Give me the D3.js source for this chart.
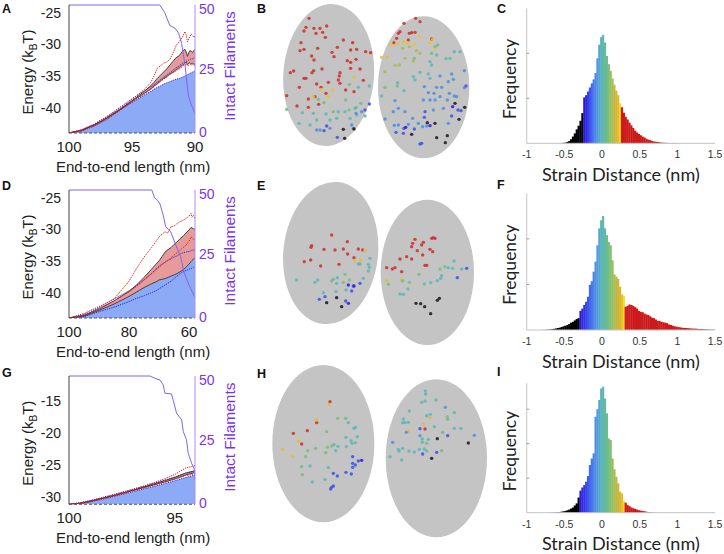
<!DOCTYPE html>
<html><head><meta charset="utf-8">
<script src="https://cdn.jsdelivr.net/npm/d3@7"></script>
<style>body{margin:0;background:#fff}svg{display:block}</style>
</head><body><svg id="c" width="724" height="554"></svg>
<script>
// ---------------- Energy panels (A, D, G) ----------------
const aX      = [100,99,98,97,96,95,94,93.5,93.25,93,92.75,92.5,92.25,92,91.75,91.5,91.25,91,90.8,90.7,90.6,90.5,90.4,90.3,90.2,90.1,90];
const aFill   = [-44,-43.7,-42.9,-41.9,-40.4,-39.2,-38.0,-37.4,-37.1,-36.8,-36.6,-36.3,-36.1,-35.9,-35.7,-35.5,-35.4,-35.2,-35.0,-34.9,-34.8,-34.7,-34.6,-34.5,-34.4,-34.3,-34.2];
const aBlueUp = [-44,-43.5,-42.6,-41.4,-40.0,-38.6,-37.3,-36.7,-36.4,-36.0,-35.6,-35.2,-34.9,-34.5,-34.1,-33.7,-33.4,-33.0,-32.8,-32.7,-32.6,-32.5,-32.4,-32.3,-32.3,-32.2,-32.1];
const aBandLo = [-44,-43.6,-42.8,-41.7,-40.4,-39.0,-37.7,-37.0,-36.6,-36.2,-35.8,-35.4,-35.1,-34.7,-34.4,-34.0,-33.7,-33.3,-33.0,-32.8,-33.2,-33.0,-32.9,-33.1,-33.0,-33.1,-33.2];
const aBandHi = [-44,-43.55,-42.7,-41.6,-40.3,-38.9,-37.4,-36.5,-36.0,-35.4,-34.9,-34.4,-33.9,-33.3,-32.7,-32.1,-31.8,-31.1,-30.8,-31.2,-31.9,-31.3,-31.0,-31.1,-31.3,-31.0,-30.8];
const aRedHi  = [-44,-43.5,-42.6,-41.5,-40.2,-38.7,-37.1,-36.0,-35.0,-33.8,-33.4,-33.0,-32.8,-32.4,-31.4,-30.2,-29.6,-28.9,-28.0,-28.5,-29.6,-29.2,-28.7,-28.4,-28.6,-28.9,-28.7];
const aRedLo  = [-44,-43.65,-42.85,-41.8,-40.5,-39.1,-37.8,-37.1,-36.7,-36.3,-35.9,-35.5,-35.2,-34.8,-34.5,-34.2,-33.9,-33.5,-33.2,-33.1,-33.4,-33.3,-33.1,-33.3,-33.2,-33.3,-33.4];
const aFilX   = [100,92.8,92.4,92.0,91.6,91.3,91.06,90.9,90.79,90.65,90.53,90.3,90.0];
const aFilN   = [50,50,47,42,41,39,35,30,26.6,20,14.8,11,7.7];

const dX      = [100,95,90,85,80,77.5,75,72.5,71,70,69,68,67,66,65,64,63,62,61,60,59.3,59,58.5,58];
const dRedHi  = [-44,-43.5,-42.4,-41.0,-38.2,-36.2,-34.4,-32.9,-31.9,-31.2,-30.8,-30.4,-30.6,-29.6,-29.5,-29.1,-28.8,-28.6,-28.3,-27.9,-27.5,-28.1,-27.8,-28.3];
const dBandHi = [-44,-43.55,-42.6,-41.3,-39.8,-38.8,-37.6,-36.3,-35.5,-35.0,-34.3,-33.6,-33.2,-32.9,-32.4,-32.0,-31.5,-31.1,-30.6,-30.1,-29.7,-29.8,-29.9,-30.0];
const dBandLo = [-44,-43.7,-42.8,-41.8,-40.6,-39.9,-39.2,-38.6,-38.3,-38.0,-37.9,-37.8,-37.6,-37.4,-37.2,-37.0,-36.7,-36.4,-36.0,-35.5,-35.1,-34.9,-34.7,-34.5];
const dBlueUp = [-44,-43.3,-42.2,-41.0,-39.7,-38.9,-38.0,-37.0,-36.3,-35.8,-35.5,-35.2,-34.9,-34.7,-34.4,-34.2,-33.9,-33.7,-33.6,-33.5,-33.4,-33.3,-33.3,-33.3];
const dBlueLo = [-44,-43.8,-43.0,-42.3,-41.4,-40.9,-40.5,-40.0,-39.7,-39.4,-39.1,-38.8,-38.5,-38.2,-37.8,-37.4,-37.0,-36.7,-36.5,-36.3,-36.2,-36.1,-36.0,-35.9];
const dRedLo  = [-44,-43.5,-42.5,-41.3,-39.9,-39.0,-38.0,-37.0,-36.4,-36.0,-35.6,-35.2,-34.9,-34.5,-34.1,-33.7,-33.3,-32.9,-32.5,-31.9,-31.2,-31.3,-31.6,-31.5];
const dFilX   = [100,72.4,71.5,70.5,69.7,68.6,67.8,66.1,64.4,62.8,61.7,60,58];
const dFilN   = [50,50,47,46,44.6,40.2,35.7,33.7,28.5,24,18,12.9,8];

const gX      = [100,99.5,99,98.5,98,97.5,97,96.5,96,95.5,95,94.5,94.05];
const gFill   = [-31.2,-31.1,-30.8,-30.45,-30.05,-29.65,-29.25,-28.8,-28.4,-27.95,-27.5,-27.0,-26.6];
const gBandLo = [-31.2,-31.05,-30.75,-30.35,-29.95,-29.5,-29.05,-28.6,-28.15,-27.7,-27.2,-26.6,-26.2];
const gBandHi = [-31.2,-31.05,-30.7,-30.3,-29.9,-29.45,-29.0,-28.5,-28.0,-27.5,-26.95,-26.3,-25.9];
const gRedHi  = [-31.2,-31.0,-30.65,-30.25,-29.8,-29.35,-28.85,-28.35,-27.8,-27.2,-26.5,-25.5,-25.1];
const gRedLo  = [-31.2,-31.08,-30.78,-30.4,-30.0,-29.55,-29.1,-28.65,-28.2,-27.75,-27.25,-26.7,-26.4];
const gBlueUp = [-31.2,-30.95,-30.6,-30.2,-29.75,-29.3,-28.85,-28.4,-27.9,-27.4,-26.9,-26.3,-26.0];
const gFilX   = [100,96.18,95.94,95.7,95.55,95.47,95.16,95.08,94.92,94.68,94.6,94.45,94.37,94.21,94.1,94.05];
const gFilN   = [50,50,49.1,48.4,46.5,43.3,43,40.6,35.5,32.9,28.3,25.1,19.9,16,14,9.5];

const aXTicks=[100,95,90], dXTicks=[100,80,60], gXTicks=[100,95];
const aYTicks=[-25,-30,-35,-40], gYTicks=[-15,-20,-25,-30];
const filTicks=[0,25,50];

// ---------------- Histograms (C, F, I) ----------------
const binW = 0.025;
const cStart = -0.6;
const cHeights = [0,0,0.005,0.01,0.015,0.03,0.05,0.09,0.15,0.22,0.31,0.39,0.50,0.67,1.02,1.07,1.15,1.24,1.33,1.42,1.56,1.89,2.19,2.36,2.41,2.24,1.94,1.76,1.61,1.44,1.30,1.17,1.07,0.89,0.80,0.68,0.59,0.53,0.46,0.40,0.34,0.28,0.24,0.21,0.18,0.15,0.13,0.10,0.08,0.07,0.05,0.04,0.035,0.03,0.022,0.015,0.012,0.01,0.008,0.006,0.005,0.004,0.005,0.003,0.002];
const fStart = -0.8;
const fHeights = [0.002,0.003,0.004,0.007,0.011,0.018,0.026,0.033,0.044,0.051,0.066,0.08,0.095,0.11,0.13,0.16,0.18,0.21,0.24,0.26,0.42,0.47,0.55,0.62,0.73,0.99,1.07,1.28,1.50,1.86,2.23,2.41,2.50,2.23,2.08,1.93,1.86,1.53,1.22,1.17,1.12,0.95,0.78,0.75,0.51,0.53,0.56,0.55,0.53,0.50,0.47,0.42,0.40,0.39,0.36,0.34,0.33,0.30,0.27,0.26,0.23,0.20,0.20,0.18,0.17,0.16,0.15,0.12,0.11,0.095,0.08,0.073,0.066,0.058,0.05,0.047,0.044,0.04,0.036,0.033,0.03,0.03,0.026,0.022,0.022,0.018,0.015,0.015,0.011,0.007,0.007,0.004];
const iStart = -0.7;
const iHeights = [0.003,0.005,0.01,0.01,0.015,0.02,0.03,0.04,0.05,0.07,0.09,0.12,0.15,0.21,0.27,0.44,0.64,0.73,0.80,0.90,1.06,1.38,1.57,1.72,2.78,3.00,3.27,3.60,3.65,3.31,2.88,2.15,2.11,1.57,1.26,1.04,0.85,0.61,0.56,0.34,0.29,0.22,0.19,0.15,0.13,0.11,0.09,0.07,0.06,0.05,0.04,0.03,0.02,0.015,0.01,0.005];
const strainTicks = [-1,-0.5,0,0.5,1,1.5];
const strainTickLabels = ["-1","-0.5","0","0.5","1","1.5"];

// ---------------- Nuclei scatter (B, E, H) ----------------
const grp = (s, pts) => pts.map(p => [p[0], p[1], s]);
const ellB = [[236,225,136,213,4],[521,262,137,213,0]];
const ellE = [[242,204,142,214,6],[532,262,140,218,0]];
const ellH = [[220,221,153,236,0],[559,265,152,237,0]];

const dotsB = [
 ...grp(0.35,[[177,55],[168,82],[162,93],[192,85],[210,85],[218,97],[198,100],[230,78],[226,112],[153,128],[150,152],[162,148],[203,145],[185,168],[192,180],[246,157],[262,142],[252,170],[280,120],[308,128],[302,150],[320,148],[347,155],[362,158],[318,178],[292,182],[302,187],[302,205],[330,207],[270,218],[268,228],[265,240],[270,250],[191,212],[186,218],[216,207],[131,213],[121,218],[162,235],[168,235],[148,262],[200,252],[213,262],[235,247],[228,280],[287,270],[312,275],[340,241],[195,290],[175,297],[206,313],[175,322],[141,318],[110,287],
   [462,70],[497,55],[510,65],[450,95],[445,100],[440,115],[432,128],[478,100],[485,98],[495,97],[475,120],[545,117]]),
 ...grp(0.22,[[213,268],[248,270],[312,232],[190,290],[235,290],
   [423,135],[440,130],[460,125],[472,128],[492,133],[508,110],[540,128],[555,145],[395,172],[412,172],[548,118]]),
 ...grp(0.14,[[458,145],[478,140],[500,152],[510,160],[465,175],[490,183],[448,195],[405,215],[435,196]]),
 ...grp(0.07,[[298,253],[110,328],[205,298],[222,308],[250,335],[287,300],[333,310],[297,330],[318,322],
   [555,140],[563,135],[545,160],[493,175],[405,262],[442,258]]),
 ...grp(0.0,[[358,258],[325,262],[157,338],[190,340],[228,342],[265,335],[285,335],[300,355],[147,370],[180,375],[200,360],[240,360],[260,355],[315,325],[320,345],[345,348],
   [560,165],[540,185],[545,195],[588,176],[600,175],[613,155],[630,155],[443,248],[490,230],[495,240],[510,217],[535,222],[540,235],[395,288],[462,272]]),
 ...grp(-0.07,[[200,390],[210,390],[240,385],[310,385],[305,375],[318,340],[335,335],
   [435,302],[445,325],[430,335],[465,335],[405,357],[433,376],[445,375],[475,373],[488,355],[505,370],[518,380],[530,378],[520,300],[540,300],[555,300],[570,290],[575,262],[560,262],[535,278],[552,280],[523,260],[595,245],[605,222],[610,238],[570,228],[643,212],[598,280],[620,290],[643,263],[592,300],[613,288],[550,330],[580,325],[595,370]]),
 ...grp(-0.16,[[222,392],[230,378],[262,412],[358,312],[345,330],
   [525,335],[523,352],[438,397],[460,400],[462,385],[493,387],[605,348],[624,330],[633,332],[648,258],[510,432],[515,430]]),
 ...grp(-0.23,[[467,382],[608,320],[540,377]]),
 ...grp(-0.35,[[280,388],[284,415],[312,387],[485,403],[532,368],[555,370],[615,310],[644,322],[627,358],[560,413],[592,407],[586,428]])
];
const dotsE = [
 ...grp(0.4,[[245,150],[292,170],[185,182],[183,187],[222,193],[255,195],[280,192],[293,207],[325,192],[338,195],[312,218],[163,230],[182,225],[212,243],[267,238],
   [495,163],[488,175],[520,172],[515,180],[485,185],[545,160],[550,158],[555,160],[540,193],[548,200],[502,197],[518,210],[470,215],[485,222],[450,222],[410,248],[427,252],[435,248],[455,260],[525,241],[530,241]]),
 ...grp(0.26,[[345,196],[315,228],[332,225],[410,287],[455,285]]),
 ...grp(0.09,[[285,268],[298,285],[280,292],[245,288],[507,268],[415,298],[458,288],[478,292],[570,252],[585,245]]),
 ...grp(0.0,[[140,285],[195,292],[203,285],[250,283],[262,278],[360,220],[355,238],[325,237],[330,237],[358,247],[355,258],[340,280],[220,323],[258,320],[288,315],[260,295],
   [595,248],[608,250],[612,228],[635,252],[523,297],[542,293],[562,287],[572,280],[575,272],[450,327],[460,328],[474,312]]),
 ...grp(-0.19,[[330,295],[310,303],[305,318],[225,335],[208,343],[287,348],[650,250],[622,278]]),
 ...grp(-0.27,[[295,300],[312,303],[295,355]]),
 ...grp(-0.4,[[230,353],[260,338],[275,365],[498,355],[512,356],[524,365],[542,386],[562,346],[568,340]])
];
const dotsH = [
 ...grp(0.4,[[240,95],[200,158],[172,182],[130,190],[155,222],[525,177]]),
 ...grp(0.26,[[238,104],[199,150],[145,213],[98,238],[128,260],[520,163],[540,142],[475,183]]),
 ...grp(0.09,[[263,145],[287,145],[230,185],[173,242],[167,260],[155,290],[197,235],[232,232],[245,228],[227,248],[157,314],[592,140],[593,148],[530,220],[575,242]]),
 ...grp(0.0,[[295,158],[312,175],[316,172],[288,202],[322,200],[303,212],[306,220],[316,218],[252,224],[264,229],[289,230],[257,242],[180,288],[187,336],[235,293],[225,328],
   [526,63],[527,72],[515,97],[525,93],[558,90],[478,123],[460,147],[458,158],[465,158],[475,157],[530,137],[541,133],[553,170],[613,128],[578,187],[613,175],[633,175],[445,238],[447,243],[458,235],[477,243],[493,246],[508,238],[523,237],[530,243],[517,217],[517,207],[535,208],[420,260],[455,270]]),
 ...grp(-0.08,[[586,112],[469,187],[428,217],[510,197],[673,196]]),
 ...grp(-0.19,[[308,260],[308,280],[316,285],[308,292],[325,273],[250,310],[262,318],[288,307],[304,312],[245,352],[250,348],[242,357],[510,176],[518,252],[560,247],[593,197]]),
 ...grp(-0.28,[[335,271]]),
 ...grp(-0.4,[[562,206],[655,219],[545,265]])
];

// ---------------- Drawing ----------------
const svg = d3.select("#c");
const SANS = "'Liberation Sans', Arial, sans-serif";
const HUM = "Lato, 'Open Sans', sans-serif";
const PURPLE = "#7b35e6";

const stopT = [0,0.12,0.25,0.38,0.5,0.62,0.74,0.84,0.93,1];
const stopC = ["#2a10d8","#3a3ae8","#4470ee","#5096e0","#5cb8b4","#6cbc8c","#98c05a","#c8b440","#e6b830","#f8ee1c"];
const jet = d3.scaleLinear().domain(stopT).range(stopC).interpolate(d3.interpolateRgb);
function strainColor(v, lim, red, black){
  if (v < -lim) return black;
  if (v > lim) return red;
  return jet((v + lim) / (2 * lim));
}

const energyPanels = [
 {x:aX, xDom:[100,90], yDom:[-44,-23.8], top:5, bottom:133, xT:aXTicks, yT:aYTicks,
  fill:aFill, lo:aBandLo, hi:aBandHi, reds:[aRedHi,aRedLo], blues:[aFill,aBlueUp], fx:aFilX, fn:aFilN},
 {x:dX, xDom:[100,58], yDom:[-44,-23.8], top:190, bottom:318, xT:dXTicks, yT:aYTicks,
  fill:dBandLo, lo:dBandLo, hi:dBandHi, reds:[dRedHi,dRedLo], blues:[dBlueLo,dBlueUp], fx:dFilX, fn:dFilN},
 {x:gX, xDom:[100,94.05], yDom:[-31.2,-11], top:376, bottom:504.3, xT:gXTicks, yT:gYTicks,
  fill:gFill, lo:gBandLo, hi:gBandHi, reds:[gRedHi,gRedLo], blues:[gFill,gBlueUp], fx:gFilX, fn:gFilN}
];
const L = 69, R = 195;

// rotated text centred on (x, yc) measured explicitly (robust with tspans)
function vText(sel, x, yc){
  const len = sel.node().getComputedTextLength();
  sel.attr("text-anchor", "start").attr("transform", `translate(${x},${yc + len / 2}) rotate(-90)`);
}

energyPanels.forEach((p, k) => {
  const xs = d3.scaleLinear().domain(p.xDom).range([L, R]);
  const ys = d3.scaleLinear().domain(p.yDom).range([p.bottom, p.top]);
  const rs = d3.scaleLinear().domain([0, 50]).range([p.bottom, p.top]);
  const cid = "clipE" + k;
  svg.append("clipPath").attr("id", cid).append("rect")
    .attr("x", L).attr("y", p.top - 1).attr("width", R - L).attr("height", p.bottom - p.top + 1);
  const g = svg.append("g").attr("clip-path", `url(#${cid})`);
  const line = d3.line().x((d, i) => xs(p.x[i])).y(d => ys(d));
  g.append("path").attr("d", d3.area().x((d, i) => xs(p.x[i])).y0(p.bottom).y1(d => ys(d))(p.fill))
    .attr("fill", "#8caaf6");
  g.append("path").attr("d", d3.area().x((d, i) => xs(p.x[i])).y0((d, i) => ys(p.lo[i])).y1(d => ys(d))(p.hi))
    .attr("fill", "#e69a9a");
  p.blues.forEach(b => g.append("path").attr("d", line(b)).attr("fill", "none")
    .attr("stroke", "#2b2be8").attr("stroke-width", 1).attr("stroke-dasharray", "1.3,1"));
  [p.lo, p.hi].forEach(b => g.append("path").attr("d", line(b)).attr("fill", "none")
    .attr("stroke", "#333").attr("stroke-width", 0.9));
  p.reds.forEach(b => g.append("path").attr("d", line(b)).attr("fill", "none")
    .attr("stroke", "#e41e1e").attr("stroke-width", 1).attr("stroke-dasharray", "1.3,1"));
  g.append("path").attr("d", d3.line().x((d, i) => xs(p.fx[i])).y(d => rs(d))(p.fn))
    .attr("fill", "none").attr("stroke", "#8463ea").attr("stroke-width", 1);
  svg.append("line").attr("x1", L).attr("x2", R).attr("y1", p.bottom).attr("y2", p.bottom)
    .attr("stroke", "#555").attr("stroke-width", 1).attr("stroke-dasharray", "3,2");
  svg.append("line").attr("x1", L).attr("x2", L).attr("y1", p.top).attr("y2", p.bottom)
    .attr("stroke", "#444").attr("stroke-width", 1);
  svg.append("line").attr("x1", R).attr("x2", R).attr("y1", p.top).attr("y2", p.bottom)
    .attr("stroke", "#a98ff2").attr("stroke-width", 1);
  svg.append("g").selectAll("text").data(p.yT).join("text")
    .attr("x", 61).attr("y", d => ys(d)).attr("dy", "0.36em").attr("text-anchor", "end")
    .attr("font-family", SANS).attr("font-size", 14).attr("fill", "#222").text(d => d);
  svg.append("g").selectAll("text").data(p.xT).join("text")
    .attr("x", d => xs(d)).attr("y", p.bottom + 19).attr("text-anchor", "middle")
    .attr("font-family", SANS).attr("font-size", 15).attr("fill", "#222").text(d => d);
  svg.append("g").selectAll("text").data(filTicks).join("text")
    .attr("x", 199).attr("y", d => Math.min(Math.max(rs(d), p.top + 4), p.bottom - 1.5)).attr("dy", "0.36em")
    .attr("text-anchor", "start")
    .attr("font-family", SANS).attr("font-size", 14).attr("fill", PURPLE).text(d => d);
  const mid = (p.top + p.bottom) / 2;
  const yt = svg.append("text").attr("font-family", SANS).attr("font-size", 15).attr("fill", "#222");
  yt.append("tspan").text("Energy (k");
  yt.append("tspan").attr("font-size", 10).attr("dy", 4).text("B");
  yt.append("tspan").attr("dy", -4).text("T)");
  vText(yt, 33, mid + 3);
  const it = svg.append("text").attr("font-family", SANS).attr("font-size", 15.5).attr("fill", PURPLE)
    .text("Intact Filaments");
  vText(it, 235, mid - 3);
  svg.append("text").attr("x", 133).attr("y", p.bottom + 39).attr("text-anchor", "middle")
    .attr("font-family", SANS).attr("font-size", 15).attr("fill", "#222").text("End-to-end length (nm)");
});

// Histograms
const histPanels = [
 {h:cHeights, start:cStart, lim:0.25, top:8.3, base:143.3, yMax:3, yT:[1,2]},
 {h:fHeights, start:fStart, lim:0.3, top:193.3, base:330, yMax:3, yT:[1,2]},
 {h:iHeights, start:iStart, lim:0.3, top:383.3, base:512.7, yMax:3.75, yT:[1,2,3]}
];
const HL = 526.7, HR = 715;
histPanels.forEach(p => {
  const xs = d3.scaleLinear().domain([-1, 1.5]).range([HL, HR]);
  const ys = d3.scaleLinear().domain([0, p.yMax]).range([p.base, p.top]);
  const bars = p.h.map((h, i) => ({x0: p.start + i * binW, h}));
  svg.append("g").selectAll("rect").data(bars.filter(b => b.h > 0)).join("rect")
    .attr("x", d => xs(d.x0)).attr("width", xs(binW) - xs(0) + 0.35)
    .attr("y", d => ys(d.h)).attr("height", d => p.base - ys(d.h))
    .attr("fill", d => strainColor(d.x0 + binW / 2, p.lim, "#cc1a1a", "#000"));
  svg.append("line").attr("x1", HL).attr("x2", HL).attr("y1", p.top).attr("y2", p.base)
    .attr("stroke", "#c4c4c4").attr("stroke-width", 1);
  svg.append("line").attr("x1", HL).attr("x2", HR).attr("y1", p.base).attr("y2", p.base)
    .attr("stroke", "#c4c4c4").attr("stroke-width", 1);
  svg.append("g").selectAll("line").data(p.yT).join("line")
    .attr("x1", HL).attr("x2", HL + 2.5).attr("y1", d => ys(d)).attr("y2", d => ys(d))
    .attr("stroke", "#999").attr("stroke-width", 1);
  svg.append("g").selectAll("text").data(strainTicks).join("text")
    .attr("x", d => xs(d)).attr("y", p.base + 15).attr("text-anchor", "middle")
    .attr("font-family", SANS).attr("font-size", 10.5).attr("fill", "#333")
    .text((d, i) => strainTickLabels[i]);
  svg.append("text").attr("x", xs(0.25)).attr("y", p.base + 37.5).attr("text-anchor", "middle")
    .attr("font-family", HUM).attr("font-size", 18).attr("fill", "#222")
    .text("Strain Distance (nm)");
  const ft = svg.append("text").attr("font-family", HUM).attr("font-size", 17.5).attr("fill", "#222").text("Frequency");
  vText(ft, 516, (p.top + p.base) / 2 + 3);
});

// Nuclei scatter panels
const nucPanels = [
 {ell:ellB, dots:dotsB, top:0, lim:0.25},
 {ell:ellE, dots:dotsE, top:185, lim:0.3},
 {ell:ellH, dots:dotsH, top:370, lim:0.3}
];
nucPanels.forEach(p => {
  const xs = d3.scaleLinear().domain([0, 690]).range([250, 480]);
  const ys = d3.scaleLinear().domain([0, 555]).range([p.top, p.top + 185]);
  const k = xs(1) - xs(0);
  svg.append("g").selectAll("ellipse").data(p.ell).join("ellipse")
    .attr("cx", d => xs(d[0])).attr("cy", d => ys(d[1]))
    .attr("rx", d => d[2] * k).attr("ry", d => d[3] * k)
    .attr("transform", d => `rotate(${d[4]},${xs(d[0])},${ys(d[1])})`)
    .attr("fill", "#c4c4c4");
  svg.append("g").selectAll("circle").data(p.dots).join("circle")
    .attr("cx", d => xs(d[0])).attr("cy", d => ys(d[1])).attr("r", 1.7)
    .attr("fill", d => strainColor(d[2], p.lim, "#d0302e", "#1c1c1c")).attr("opacity", 0.88);
});

// Panel letters
const letters = [["A",2,13],["B",257,13],["C",497,13],["D",2,190],["E",257,190],["F",497,189],["G",2,377],["H",257,378],["I",497,376]];
svg.append("g").selectAll("text").data(letters).join("text")
  .attr("x", d => d[1]).attr("y", d => d[2]).attr("font-family", SANS).attr("font-weight", "bold")
  .attr("font-size", 12.5).attr("fill", "#111").text(d => d[0]);
</script></body></html>
